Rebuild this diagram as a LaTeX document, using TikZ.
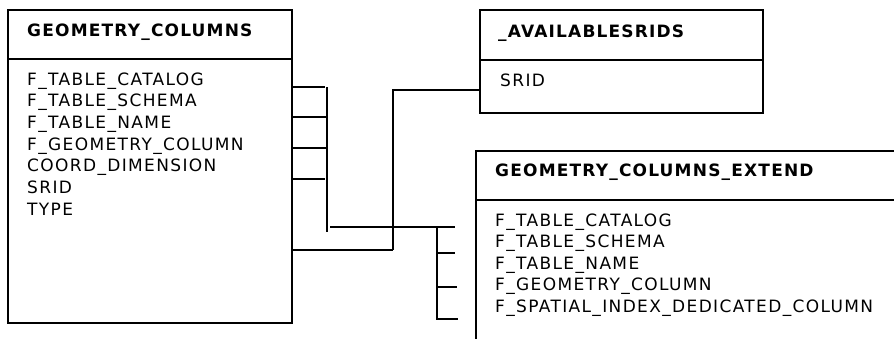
\documentclass[tikz,border=0pt]{standalone}
\usepackage{fontspec}
\setmainfont{DejaVu Sans}[LetterSpace=8,BoldFeatures={LetterSpace=7}]
\begin{document}
\begin{tikzpicture}[x=1pt,y=-1pt,
  tbl/.style={draw=black,line width=1.6pt},
  link/.style={draw=black,line width=1.6pt},
  title/.style={anchor=base west,inner sep=0pt,font=\fontsize{17}{20}\selectfont\bfseries},
  field/.style={anchor=base west,inner sep=0pt,font=\fontsize{17}{20}\selectfont}]
\useasboundingbox (0,0) rectangle (894,338);
\clip (0,0) rectangle (894,338);
\fill[white] (0,0) rectangle (894,338);

% table frames
\draw[tbl] (8,10) rectangle (292,323);
\draw[tbl] (8,59) -- (292,59);
\draw[tbl] (480,10) rectangle (763,113);
\draw[tbl] (480,60) -- (763,60);
\draw[tbl] (476,151) rectangle (910,350);
\draw[tbl] (476,200) -- (910,200);

% GEOMETRY_COLUMNS
\node[title] (gct) at (27,36.7) {GEOMETRY\_COLUMNS};
\node[field] (gc1) at (27,85) {F\_TABLE\_CATALOG};
\node[field] (gc2) at (27,106.7) {F\_TABLE\_SCHEMA};
\node[field] (gc3) at (27,128.3) {F\_TABLE\_NAME};
\node[field] (gc4) at (27,150) {F\_GEOMETRY\_COLUMN};
\node[field] (gc5) at (27,171.7) {COORD\_DIMENSION};
\node[field] (gc6) at (27,193.3) {SRID};
\node[field] (gc7) at (27,215) {TYPE};

% _AVAILABLESRIDS
\node[title] (avt) at (498,37) {\_AVAILABLESRIDS};
\node[field] (av1) at (500,86.7) {SRID};

% GEOMETRY_COLUMNS_EXTEND
\node[title] (ext) at (495,176.7) {GEOMETRY\_COLUMNS\_EXTEND};
\node[field] (ex1) at (495,226) {F\_TABLE\_CATALOG};
\node[field] (ex2) at (495,247.5) {F\_TABLE\_SCHEMA};
\node[field] (ex3) at (495,269) {F\_TABLE\_NAME};
\node[field] (ex4) at (495,290.5) {F\_GEOMETRY\_COLUMN};
\node[field] (ex5) at (495,312) {F\_SPATIAL\_INDEX\_DEDICATED\_COLUMN};

% connector junctions
\coordinate (a1) at (292,87);  \coordinate (b1) at (325,87);
\coordinate (a2) at (292,117); \coordinate (b2) at (327,117);
\coordinate (a3) at (292,148); \coordinate (b3) at (327,148);
\coordinate (a4) at (292,179); \coordinate (b4) at (325,179);
\coordinate (v1t) at (327,87); \coordinate (v1b) at (327,232);
\coordinate (h1l) at (330,227); \coordinate (h1r) at (455,227);
\coordinate (v2t) at (393,90); \coordinate (v2b) at (393,250);
\coordinate (av) at (480,90);
\coordinate (a5) at (292,250);
\coordinate (v3t) at (437,227); \coordinate (v3b) at (437,320);
\coordinate (t1) at (437,253); \coordinate (u1) at (455,253);
\coordinate (t2) at (437,287); \coordinate (u2) at (457,287);
\coordinate (t3) at (437,319); \coordinate (u3) at (458,319);

% connectors
\draw[link] (a1) -- (b1);
\draw[link] (a2) -- (b2);
\draw[link] (a3) -- (b3);
\draw[link] (a4) -- (b4);
\draw[link] (v1t) -- (v1b);
\draw[link] (h1l) -- (h1r);
\draw[link] (av) -- (v2t) -- (v2b);
\draw[link] (a5) -- (v2b);
\draw[link] (v3t) -- (v3b);
\draw[link] (t1) -- (u1);
\draw[link] (t2) -- (u2);
\draw[link] (t3) -- (u3);
\end{tikzpicture}
\end{document}
